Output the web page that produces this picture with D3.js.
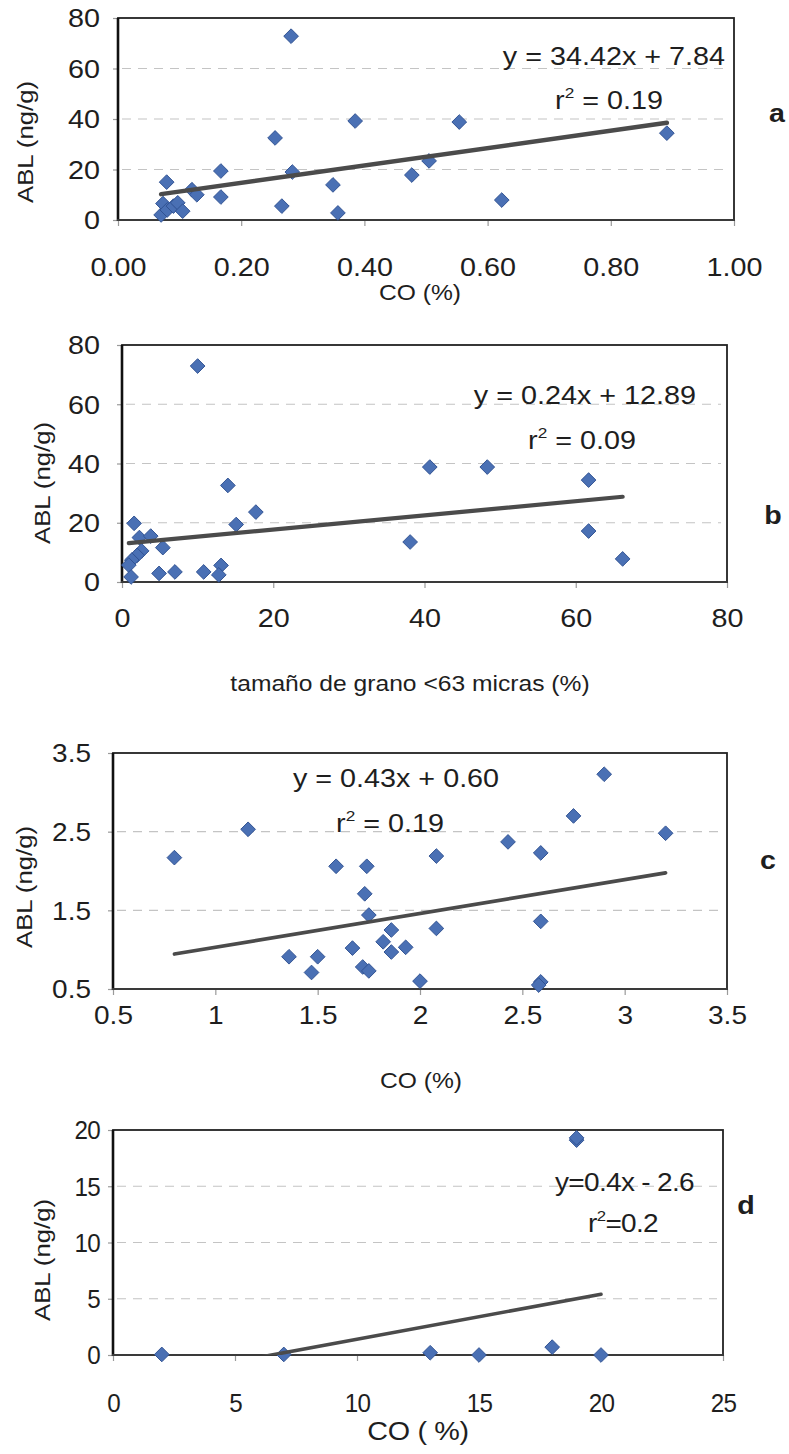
<!DOCTYPE html>
<html>
<head>
<meta charset="utf-8">
<script src="https://cdn.jsdelivr.net/npm/d3@7"></script>
<style>
  body { margin: 0; background: #fff; }
  svg { display: block; }
</style>
</head>
<body>
<svg id="fig" width="789" height="1454"></svg>
<script>
// ---- Panel a: ABL vs organic carbon (CO %) ----
const aCO  = [0.070, 0.073, 0.080, 0.079, 0.090, 0.097, 0.105, 0.120, 0.128, 0.167, 0.167, 0.255,
              0.266, 0.281, 0.283, 0.349, 0.357, 0.385, 0.477, 0.505, 0.554, 0.623, 0.891];
const aABL = [2.0, 6.5, 4.0, 15.0, 5.5, 6.8, 3.5, 12.0, 10.0, 19.4, 9.1, 32.5,
              5.5, 72.8, 19.0, 13.9, 2.8, 39.2, 17.8, 23.4, 38.8, 7.9, 34.4];
const aTicksX = [0, 0.2, 0.4, 0.6, 0.8, 1.0];
const aTicksY = [0, 20, 40, 60, 80];
const aFit = [34.42, 7.84, 0.19];   // slope, intercept, r²

// ---- Panel b: ABL vs grain size < 63 µm (%) ----
const bGrain = [10.0, 14.0, 17.7, 15.1, 1.6, 2.3, 3.8, 5.4, 2.6, 2.0, 1.3, 0.9,
                1.2, 4.9, 7.0, 10.8, 13.1, 12.8, 40.7, 48.3, 61.7, 38.1, 61.7, 66.2];
const bABL   = [72.9, 32.6, 23.6, 19.4, 19.8, 15.0, 15.5, 11.6, 10.5, 9.0, 7.4, 5.7,
                1.7, 2.9, 3.4, 3.4, 5.6, 2.4, 38.8, 38.8, 34.4, 13.5, 17.2, 7.8];
const bTicksX = [0, 20, 40, 60, 80];
const bTicksY = [0, 20, 40, 60, 80];
const bFit = [0.24, 12.89, 0.09];

// ---- Panel c: ABL vs CO (%) ----
const cCO  = [0.80, 1.16, 1.36, 1.47, 1.50, 1.59, 1.67, 1.72, 1.75, 1.73, 1.74, 1.75, 1.82, 1.86,
              1.86, 1.93, 2.00, 2.08, 2.08, 2.43, 2.59, 2.59, 2.59, 2.58, 2.75, 2.90, 3.20];
const cABL = [2.17, 2.53, 0.91, 0.71, 0.91, 2.06, 1.02, 0.78, 0.73, 1.71, 2.06, 1.44, 1.10, 1.25,
              0.97, 1.03, 0.60, 2.19, 1.27, 2.37, 2.23, 1.36, 0.59, 0.55, 2.70, 3.23, 2.48];
const cTicksX = [0.5, 1, 1.5, 2, 2.5, 3, 3.5];
const cTicksY = [0.5, 1.5, 2.5, 3.5];
const cFit = [0.43, 0.60, 0.19];

// ---- Panel d: ABL vs CO (%) ----
const dCO  = [2, 7, 13, 15, 18, 19, 19, 20];
const dABL = [0.05, 0.05, 0.2, 0.0, 0.7, 19.1, 19.3, 0.0];
const dTicksX = [0, 5, 10, 15, 20, 25];
const dTicksY = [0, 5, 10, 15, 20];
const dFit = [0.4, -2.6, 0.2];

const FONT = "'Liberation Sans', Arial, Helvetica, sans-serif";
const INK = "#1e1e1e";

const fmt2 = d3.format(".2f");
const panels = [
  {
    tag: "a", xs: aCO, ys: aABL, xTicks: aTicksX, yTicks: aTicksY, fit: aFit,
    xDomain: [0, 1], yDomain: [0, 80],
    xFmt: d3.format(".2f"), yFmt: d3.format("d"),
    box: { left: 118, top: 18, right: 734, bottom: 220 },
    xTitle: "CO (%)", xTitlePos: [420, 292],
    yTitlePos: [33, 142],
    eqText: f => `y = ${fmt2(f[0])}x + ${fmt2(f[1])}`, eqPos: [725, 56], eqAnchor: "end",
    r2Text: f => ` = ${fmt2(f[2])}`, r2Pos: [609, 100],
    tagPos: [777, 113],
    xLabelY: 47, yLabelPad: 18, fs: 25, sx: 1.15, lineW: 4.5
  },
  {
    tag: "b", xs: bGrain, ys: bABL, xTicks: bTicksX, yTicks: bTicksY, fit: bFit,
    xDomain: [0, 80], yDomain: [0, 80],
    xFmt: d3.format("d"), yFmt: d3.format("d"),
    box: { left: 122, top: 345, right: 727, bottom: 582 },
    xTitle: "tamaño de grano <63 micras (%)", xTitlePos: [410, 683],
    yTitlePos: [50, 483],
    eqText: f => `y = ${fmt2(f[0])}x + ${fmt2(f[1])}`, eqPos: [696, 395], eqAnchor: "end",
    r2Text: f => ` = ${fmt2(f[2])}`, r2Pos: [582, 440],
    tagPos: [773, 515],
    xLabelY: 36, yLabelPad: 22, fs: 25, sx: 1.15, lineW: 4.2
  },
  {
    tag: "c", xs: cCO, ys: cABL, xTicks: cTicksX, yTicks: cTicksY, fit: cFit,
    xDomain: [0.5, 3.5], yDomain: [0.5, 3.5],
    xFmt: d3.format("~g"), yFmt: d3.format(".1f"),
    box: { left: 113, top: 753, right: 727, bottom: 989 },
    xTitle: "CO (%)", xTitlePos: [421, 1080],
    yTitlePos: [32, 887],
    eqText: f => `y = ${fmt2(f[0])}x + ${fmt2(f[1])}`, eqPos: [396, 778], eqAnchor: "middle",
    r2Text: f => ` = ${fmt2(f[2])}`, r2Pos: [390, 823],
    tagPos: [768, 860],
    xLabelY: 26, yLabelPad: 22, fs: 25, sx: 1.12, lineW: 3.6
  },
  {
    tag: "d", xs: dCO, ys: dABL, xTicks: dTicksX, yTicks: dTicksY, fit: dFit,
    xDomain: [0, 25], yDomain: [0, 20],
    xFmt: d3.format("d"), yFmt: d3.format("d"),
    box: { left: 113, top: 1130, right: 723, bottom: 1355 },
    xTitle: "CO ( %)", xTitlePos: [418, 1431],
    yTitlePos: [50, 1260],
    eqText: f => `y=${f[0]}x - ${Math.abs(f[1])}`, eqPos: [694, 1182], eqAnchor: "end",
    r2Text: f => `=${f[2]}`, r2Pos: [623, 1223],
    tagPos: [746, 1205],
    xLabelY: 48, yLabelPad: 13, fs: 25, sx: 0.97, lineW: 3.6, tight: true
  }
];

const svg = d3.select("#fig");
const defs = svg.append("defs");
const diamond = d3.symbol(d3.symbolSquare).size(108);

// text helper: horizontally scaled text centred vertically on y
function label(g, x, y, txt, o) {
  const t = g.append("text")
    .attr("transform", `translate(${x},${y}) scale(${o.sx || 1},1)`)
    .attr("text-anchor", o.anchor || "middle")
    .attr("dy", "0.35em")
    .attr("font-family", FONT)
    .attr("font-size", o.size)
    .attr("font-weight", o.weight || "normal")
    .attr("fill", INK)
    .text(txt);
  if (o.ls) t.attr("letter-spacing", o.ls);
  return t;
}

panels.forEach(p => {
  const b = p.box;
  const g = svg.append("g").attr("class", "panel-" + p.tag);
  const x = d3.scaleLinear().domain(p.xDomain).range([b.left, b.right]);
  const y = d3.scaleLinear().domain(p.yDomain).range([b.bottom, b.top]);

  // dashed gridlines at interior y ticks
  g.append("g").selectAll("line")
    .data(p.yTicks.filter(v => v > p.yDomain[0] && v < p.yDomain[1]))
    .join("line")
    .attr("x1", b.left + 4).attr("x2", b.right - 6)
    .attr("y1", d => y(d)).attr("y2", d => y(d))
    .attr("stroke", "#c4c4c4").attr("stroke-width", 1.2)
    .attr("stroke-dasharray", "9,7");

  // x axis: tick marks + labels
  const ax = g.append("g").attr("transform", `translate(0,${b.bottom})`)
    .call(d3.axisBottom(x).tickValues(p.xTicks).tickFormat(p.xFmt).tickSize(6).tickSizeOuter(0));
  ax.select(".domain").remove();
  ax.selectAll("line").attr("stroke", "#9a9a9a").attr("stroke-width", 1.2);
  ax.selectAll("text")
    .attr("x", 0).attr("y", p.xLabelY).attr("dy", "0.35em")
    .attr("transform", `scale(${p.sx},1)`)
    .attr("font-family", FONT).attr("font-size", p.fs).attr("fill", INK)
    .attr("letter-spacing", p.tight ? -0.8 : null);

  // y axis: tick marks + labels
  const ay = g.append("g").attr("transform", `translate(${b.left},0)`)
    .call(d3.axisLeft(y).tickValues(p.yTicks).tickFormat(p.yFmt).tickSize(5).tickSizeOuter(0));
  ay.select(".domain").remove();
  ay.selectAll("line").attr("stroke", "#9a9a9a").attr("stroke-width", 1.2);
  ay.selectAll("text")
    .attr("x", -p.yLabelPad / p.sx).attr("dy", "0.35em")
    .attr("transform", `scale(${p.sx},1)`)
    .attr("font-family", FONT).attr("font-size", p.fs).attr("fill", INK)
    .attr("letter-spacing", p.tight ? -0.8 : null);

  // plot frame
  g.append("rect")
    .attr("x", b.left).attr("y", b.top)
    .attr("width", b.right - b.left).attr("height", b.bottom - b.top)
    .attr("fill", "none").attr("stroke", "#222").attr("stroke-width", 1.8);
  g.append("line")
    .attr("x1", b.left).attr("x2", b.left).attr("y1", b.top).attr("y2", b.bottom + 1)
    .attr("stroke", "#111").attr("stroke-width", 2.6);
  g.append("line")
    .attr("x1", b.left - 1).attr("x2", b.right).attr("y1", b.bottom).attr("y2", b.bottom)
    .attr("stroke", "#3a3a3a").attr("stroke-width", 2.2);

  // points
  const pts = p.xs.map((v, k) => [v, p.ys[k]]);
  g.append("g").selectAll("path")
    .data(pts)
    .join("path")
    .attr("d", diamond)
    .attr("transform", d => `translate(${x(d[0])},${y(d[1])}) rotate(45)`)
    .attr("fill", "#4a70b4").attr("stroke", "#2f5191").attr("stroke-width", 0.9);

  // least-squares line from the stated equation, over the x range of the data
  const clipId = "clip-" + p.tag;
  defs.append("clipPath").attr("id", clipId)
    .append("rect").attr("x", b.left).attr("y", b.top)
    .attr("width", b.right - b.left).attr("height", b.bottom - b.top);
  const [x0, x1] = d3.extent(p.xs);
  const fitPts = [x0, x1].map(v => [v, p.fit[0] * v + p.fit[1]]);
  g.append("path")
    .attr("clip-path", `url(#${clipId})`)
    .attr("d", d3.line().x(d => x(d[0])).y(d => y(d[1]))(fitPts))
    .attr("stroke", "#4b4b4b").attr("stroke-width", p.lineW)
    .attr("stroke-linecap", "round").attr("fill", "none");

  // equation and r²
  const eqSx = p.tight ? 1.12 : 1.15;
  const eqLs = p.tight ? -0.6 : null;
  label(g, p.eqPos[0], p.eqPos[1], p.eqText(p.fit),
        { size: 25, sx: eqSx, anchor: p.eqAnchor, ls: eqLs });
  const r2 = label(g, p.r2Pos[0], p.r2Pos[1], "r", { size: 25, sx: eqSx, ls: eqLs });
  r2.append("tspan").attr("font-size", 15).attr("dy", "-0.75em").text("2");
  r2.append("tspan").attr("dy", "0.45em").text(p.r2Text(p.fit));

  // axis titles
  label(g, p.xTitlePos[0], p.xTitlePos[1], p.xTitle,
        { size: p.tight ? 25 : 22, sx: p.tight ? 1.15 : 1.12, ls: p.tight ? -0.3 : null });
  g.append("text")
    .attr("transform", `translate(${p.yTitlePos[0]},${p.yTitlePos[1]}) rotate(-90) scale(1.17,1)`)
    .attr("text-anchor", "middle")
    .attr("font-family", FONT).attr("font-size", 22).attr("fill", INK)
    .text("ABL (ng/g)");

  // panel letter
  label(g, p.tagPos[0], p.tagPos[1], p.tag, { size: 26, sx: 1.1, weight: "bold" });
});
</script>
</body>
</html>
